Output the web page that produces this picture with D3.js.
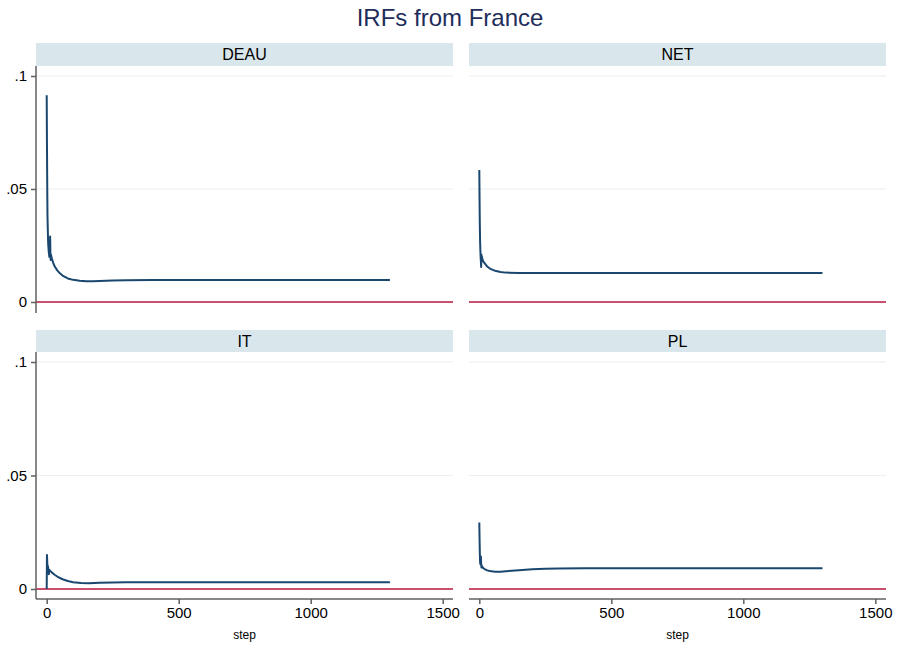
<!DOCTYPE html>
<html>
<head>
<meta charset="utf-8">
<script src="https://cdn.jsdelivr.net/npm/d3@7"></script>
<style>
  body { margin: 0; background: #fff; }
  text { font-family: "Liberation Sans", Arial, sans-serif; }
</style>
</head>
<body>
<div id="chart"></div>
<script>
// data
const title = "IRFs from France";
const panelNames = ["DEAU", "NET", "IT", "PL"];
const xTicks = [0, 500, 1000, 1500];
const yTicks = [0, 0.05, 0.1];
const yTickLabels = ["0", ".05", ".1"];

const deauSteps = [0, 1, 2, 3, 4, 5, 6, 8, 10, 12, 13, 14, 15, 16, 18, 20, 25, 30, 40, 50, 60, 80, 100, 125, 150, 175, 200, 250, 300, 400, 600, 800, 1000, 1300];
const deauVals  = [.0915, .070, .052, .038, .033, .028, .025, .022, .020, .024, .029, .022, .0186, .021, .020, .019, .0172, .0158, .0140, .0127, .0117, .0104, .0098, .0094, .0092, .0092, .0093, .0095, .0096, .0097, .0097, .0097, .0097, .0097];

const netSteps = [0, 1, 2, 3, 4, 5, 6, 7, 8, 9, 10, 12, 15, 20, 30, 40, 60, 80, 100, 150, 200, 300, 600, 1000, 1300];
const netVals  = [.0584, .045, .034, .027, .023, .020, .018, .0155, .021, .019, .020, .019, .018, .0172, .0157, .0148, .0138, .0133, .0130, .0128, .0128, .0128, .0128, .0128, .0128];

const itSteps = [0, 1, 2, 3, 4, 5, 6, 7, 8, 10, 12, 15, 20, 30, 40, 60, 80, 100, 130, 160, 200, 250, 300, 400, 700, 1000, 1300];
const itVals  = [0, .0150, .012, .0095, .0085, .0100, .0075, .0085, .0065, .0085, .0080, .0078, .0072, .0063, .0055, .0043, .0035, .0030, .0026, .0025, .0027, .0029, .0030, .0030, .0030, .0030, .0030];

const plSteps = [0, 1, 2, 3, 4, 5, 6, 7, 8, 9, 10, 12, 15, 20, 30, 40, 60, 80, 100, 150, 200, 250, 300, 400, 700, 1000, 1300];
const plVals  = [.0293, .022, .016, .012, .011, .013, .0143, .011, .0095, .0105, .0098, .0097, .0092, .0088, .0082, .0079, .0076, .0076, .0078, .0083, .0087, .0089, .0090, .0091, .0091, .0091, .0091];

const series = [
  { steps: deauSteps, vals: deauVals },
  { steps: netSteps, vals: netVals },
  { steps: itSteps, vals: itVals },
  { steps: plSteps, vals: plVals }
];

const width = 899, height = 645;

const svg = d3.select("#chart").append("svg")
    .attr("width", width)
    .attr("height", height);

svg.append("text")
    .attr("x", 450)
    .attr("y", 26)
    .attr("text-anchor", "middle")
    .attr("font-size", 24)
    .attr("fill", "#1e2d5a")
    .text(title);

// panel geometry
const cols = [{ x0: 36, x1: 453, zero: 46.7 }, { x0: 469, x1: 886, zero: 479.3 }];
const rows = [{ head: 43, top: 66, bottom: 313, y0: 302, y1: 76 },
              { head: 330, top: 352, bottom: 599, y0: 589, y1: 362 }];
const pxPerStep = 132 / 500;

panelNames.forEach(function (name, i) {
  const c = cols[i % 2], r = rows[Math.floor(i / 2)];
  const g = svg.append("g");

  const x = d3.scaleLinear().domain([0, 1500]).range([c.zero, c.zero + 1500 * pxPerStep]);
  const y = d3.scaleLinear().domain([0, 0.1]).range([r.y0, r.y1]);

  // header strip
  g.append("rect")
      .attr("x", c.x0).attr("y", r.head)
      .attr("width", c.x1 - c.x0).attr("height", r.top - r.head)
      .attr("fill", "#d9e6eb");
  g.append("text")
      .attr("x", (c.x0 + c.x1) / 2)
      .attr("y", r.head + 17)
      .attr("text-anchor", "middle")
      .attr("font-size", 16)
      .attr("fill", "#000")
      .text(name);

  // gridlines
  g.selectAll(".grid")
      .data(yTicks.slice(1))
      .enter().append("line")
      .attr("x1", c.x0).attr("x2", c.x1)
      .attr("y1", d => y(d)).attr("y2", d => y(d))
      .attr("stroke", "#eaf0f2")
      .attr("stroke-width", 1.2);

  // zero line
  g.append("line")
      .attr("x1", c.x0).attr("x2", c.x1)
      .attr("y1", y(0)).attr("y2", y(0))
      .attr("stroke", "#c9506d")
      .attr("stroke-width", 2);

  // IRF curve
  const s = series[i];
  const pts = s.steps.map((d, k) => [d, s.vals[k]]);
  g.append("path")
      .datum(pts)
      .attr("fill", "none")
      .attr("stroke", "#1a476f")
      .attr("stroke-width", 2)
      .attr("stroke-linejoin", "round")
      .attr("d", d3.line().x(d => x(d[0])).y(d => y(d[1])));

  // y axis on left column
  if (i % 2 === 0) {
    const ya = g.append("g")
        .attr("transform", "translate(" + c.x0 + ",0)")
        .call(d3.axisLeft(y).tickValues(yTicks).tickSize(5).tickPadding(4)
          .tickFormat((d, k) => yTickLabels[k]));
    ya.select(".domain").attr("d", "M0," + r.top + "V" + r.bottom);
    ya.selectAll("line, path").attr("stroke", "#606060").attr("stroke-width", 1.5);
    ya.selectAll("text").attr("font-size", 15).attr("fill", "#000")
        .attr("font-family", "Liberation Sans, Arial, sans-serif");
  }

  // x axis on bottom row
  if (i >= 2) {
    const xa = g.append("g")
        .attr("transform", "translate(0," + r.bottom + ")")
        .call(d3.axisBottom(x).tickValues(xTicks).tickSize(5).tickPadding(3)
          .tickFormat(d3.format("d")));
    xa.select(".domain").attr("d", "M" + c.x0 + ",0H" + c.x1);
    xa.selectAll("line, path").attr("stroke", "#606060").attr("stroke-width", 1.5);
    xa.selectAll("text").attr("font-size", 15).attr("fill", "#000")
        .attr("font-family", "Liberation Sans, Arial, sans-serif");

    g.append("text")
        .attr("x", (c.x0 + c.x1) / 2)
        .attr("y", 639)
        .attr("text-anchor", "middle")
        .attr("font-size", 12)
        .attr("fill", "#000")
        .text("step");
  }
});
</script>
</body>
</html>
